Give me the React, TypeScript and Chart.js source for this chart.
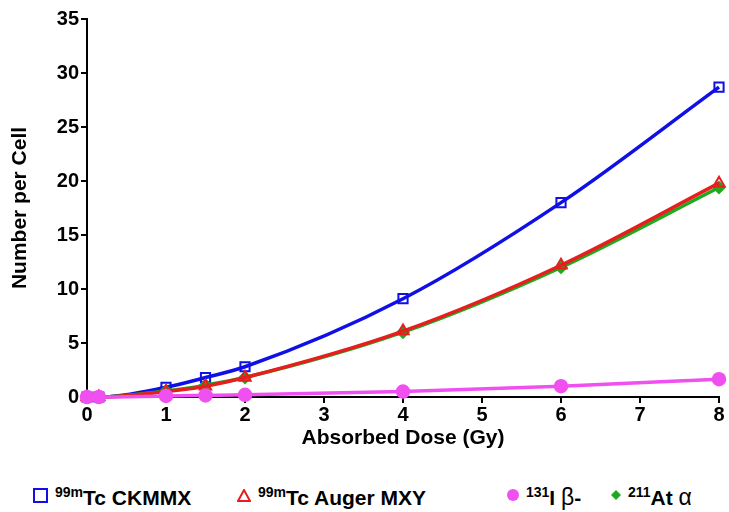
import React, { useEffect, useRef } from "react";
import { Chart, registerables } from "chart.js";

Chart.register(...registerables);

const doses = [0, 0.15, 1, 1.5, 2, 4, 6, 8];
const tcCkmmx = [0, 0, 0.9, 1.8, 2.8, 9.1, 18.0, 28.7];
const tcAuger = [0, 0, 0.5, 1.0, 1.8, 6.1, 12.2, 19.8];
const iodine = [0, 0, 0.1, 0.15, 0.2, 0.5, 1.0, 1.65];
const astatine = [0, 0, 0.55, 1.1, 1.8, 6.0, 12.0, 19.4];
const yTicks = [0, 5, 10, 15, 20, 25, 30, 35];
const xTicks = [0, 1, 2, 3, 4, 5, 6, 7, 8];

const FONT = "'Liberation Sans', Arial, sans-serif";

const BLUE = "rgb(15,15,230)";
const RED = "rgb(230,30,30)";
const MAGENTA = "rgb(240,80,240)";
const GREEN = "rgb(30,170,30)";

function pts(ys: number[]) {
  return doses.map((x, i) => ({ x, y: ys[i] }));
}

export default function App() {
  const ref = useRef<HTMLCanvasElement | null>(null);
  useEffect(() => {
    if (!ref.current) return;
    const chart = new Chart(ref.current, {
      type: "line",
      data: {
        datasets: [
          {
            label: "131I β-",
            data: pts(iodine),
            borderColor: MAGENTA,
            backgroundColor: MAGENTA,
            borderWidth: 3.5,
            pointStyle: "circle",
            pointRadius: 5.5,
            cubicInterpolationMode: "monotone",
            clip: false,
          },
          {
            label: "99mTc Auger MXY",
            data: pts(tcAuger),
            borderColor: RED,
            backgroundColor: "rgba(255,255,255,0)",
            borderWidth: 3.5,
            pointBorderWidth: 2,
            pointStyle: "triangle",
            pointRadius: 6.5,
            cubicInterpolationMode: "monotone",
            clip: false,
          },
          {
            label: "211At α",
            data: pts(astatine),
            borderColor: GREEN,
            backgroundColor: GREEN,
            borderWidth: 3.5,
            pointStyle: "rectRot",
            pointRadius: 4.5,
            cubicInterpolationMode: "monotone",
            clip: false,
          },
          {
            label: "99mTc CKMMX",
            data: pts(tcCkmmx),
            borderColor: BLUE,
            backgroundColor: "rgba(255,255,255,0)",
            borderWidth: 3.5,
            pointBorderWidth: 2,
            pointStyle: "rect",
            pointRadius: 6.5,
            cubicInterpolationMode: "monotone",
            clip: false,
          },
        ],
      },
      options: {
        animation: false,
        responsive: false,
        layout: { padding: { left: 4, right: 10, top: 19, bottom: 0 } },
        plugins: { legend: { display: false }, tooltip: { enabled: false } },
        scales: {
          x: {
            type: "linear",
            min: 0,
            max: 8,
            afterBuildTicks: (s: any) => {
              s.ticks = xTicks.map((v) => ({ value: v }));
            },
            afterFit: (s: any) => {
              s.height = 58;
            },
            grid: { display: true, drawOnChartArea: false, drawTicks: true, tickLength: 6, color: "#000", lineWidth: 2 },
            border: { display: true, color: "#000", width: 2 },
            ticks: { color: "#000", font: { family: FONT, size: 20, weight: "bold" }, padding: 0 },
            title: {
              display: true,
              text: "Absorbed Dose (Gy)",
              color: "#000",
              font: { family: FONT, size: 21, weight: "bold" },
              padding: { top: 0 },
            },
          },
          y: {
            type: "linear",
            min: 0,
            max: 35,
            afterBuildTicks: (s: any) => {
              s.ticks = yTicks.map((v) => ({ value: v }));
            },
            afterFit: (s: any) => {
              s.width = 83;
            },
            grid: { display: true, drawOnChartArea: false, drawTicks: true, tickLength: 6, color: "#000", lineWidth: 2 },
            border: { display: true, color: "#000", width: 2 },
            ticks: { color: "#000", font: { family: FONT, size: 20, weight: "bold" }, padding: 2 },
            title: {
              display: true,
              text: "Number per Cell",
              color: "#000",
              font: { family: FONT, size: 21, weight: "bold" },
              padding: { bottom: 8 },
            },
          },
        },
      },
    } as any);
    return () => chart.destroy();
  }, []);

  const item = (marker: React.ReactNode, sup: string, rest: React.ReactNode, left: number) => (
    <div style={{ position: "absolute", left, top: 478, display: "flex", alignItems: "center", whiteSpace: "nowrap" }}>
      {marker}
      <span style={{ marginLeft: 7, fontFamily: FONT, fontWeight: "bold", fontSize: 21, color: "#000", lineHeight: "28px" }}>
        <sup style={{ fontSize: 14, verticalAlign: "8px" }}>{sup}</sup>
        {rest}
      </span>
    </div>
  );

  return (
    <div style={{ position: "absolute", left: 0, top: 0, width: 729, height: 512, background: "#fff" }}>
      <canvas ref={ref} width={729} height={455} style={{ display: "block" }} />
      {item(
        <span style={{ width: 11, height: 11, border: `2px solid ${BLUE}`, display: "inline-block" }} />,
        "99m",
        "Tc CKMMX",
        33
      )}
      {item(
        <svg width="14" height="13"><polygon points="7,1 13,12 1,12" fill="none" stroke={RED} strokeWidth="2" /></svg>,
        "99m",
        "Tc Auger MXY",
        237
      )}
      {item(
        <span style={{ width: 12, height: 12, borderRadius: "50%", background: MAGENTA, display: "inline-block" }} />,
        "131",
        <>I <span style={{ fontWeight: "normal", fontSize: 23 }}>β</span>-</>,
        507
      )}
      {item(
        <svg width="10" height="10"><polygon points="5,0 10,5 5,10 0,5" fill={GREEN} /></svg>,
        "211",
        <>At <span style={{ fontWeight: "normal", fontSize: 23 }}>α</span></>,
        611
      )}
    </div>
  );
}
